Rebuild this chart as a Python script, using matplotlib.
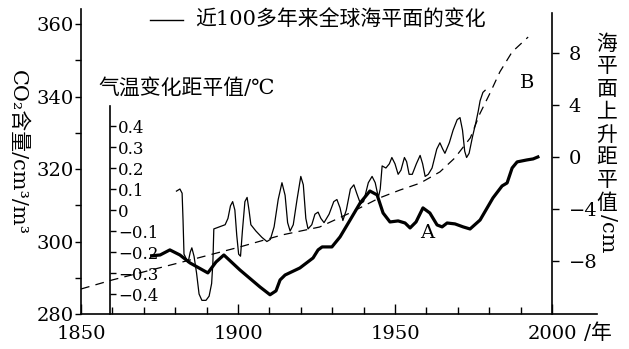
import matplotlib
matplotlib.use("Agg")
import matplotlib.pyplot as plt
from matplotlib.lines import Line2D

plt.rcParams['font.family'] = ['DejaVu Serif', 'Noto Sans CJK SC']
plt.rcParams['axes.unicode_minus'] = True

# CO2 content (dashed, left axis)
co2_years = [1850, 1860, 1887, 1900.6, 1914, 1926, 1935.7, 1945, 1951.6, 1958,
             1964.3, 1969, 1974, 1977, 1980.3, 1983.4, 1987.3, 1992.4]
co2_vals = [286.9, 289.4, 295.4, 298.5, 301.8, 304.0, 307.9, 312.0, 314.2, 316.1,
            319.2, 323.0, 328.6, 335.2, 341.0, 346.8, 352.3, 356.4]

# temperature anomaly (thin line, inner axis)
temp_years = [1880.4, 1881.5, 1882.2, 1882.5, 1882.8, 1884.1, 1884.8, 1885.3, 1886.0,
              1886.8, 1887.6, 1888.5, 1889.8, 1890.8, 1891.6, 1892.0, 1892.3, 1895.9,
              1896.8, 1897.6, 1898.3, 1899.0, 1899.6, 1900.2, 1900.8, 1901.4, 1902.2,
              1902.9, 1903.5, 1904.1, 1905.7, 1907.6, 1909.2, 1910.3, 1911.5, 1912.8,
              1914.0, 1915.0, 1915.8, 1916.6, 1917.6, 1918.8, 1920.0, 1920.8, 1921.6,
              1922.3, 1923.5, 1924.5, 1925.5, 1926.4, 1927.4, 1929.0, 1930.5, 1931.5,
              1932.5, 1933.4, 1934.5, 1935.8, 1936.9, 1937.8, 1939.0, 1940.0, 1941.5,
              1942.7, 1943.7, 1944.7, 1945.3, 1945.9, 1947.1, 1948.2, 1949.0, 1950.0,
              1951.0, 1951.9, 1953.0, 1953.7, 1954.5, 1955.5, 1956.8, 1958.0, 1958.8,
              1959.6, 1960.6, 1961.8, 1963.3, 1964.3, 1965.2, 1965.9, 1967.3, 1968.5,
              1969.8, 1970.7, 1971.5, 1972.2, 1972.8, 1973.6, 1974.7, 1975.8, 1976.5,
              1977.1, 1978.0, 1978.7]
temp_vals = [0.09, 0.10, 0.08, -0.05, -0.21, -0.25, -0.20, -0.18, -0.22,
             -0.30, -0.40, -0.43, -0.43, -0.41, -0.35, -0.25, -0.09, -0.07,
             -0.04, 0.02, 0.04, 0.0, -0.12, -0.21, -0.22, -0.10, 0.04,
             0.06, 0.0, -0.07, -0.10, -0.13, -0.15, -0.14, -0.08, 0.05,
             0.13, 0.07, -0.06, -0.10, -0.07, 0.05, 0.16, 0.12, -0.04,
             -0.09, -0.07, -0.02, -0.01, -0.04, -0.06, -0.02, 0.04, 0.05,
             0.01, -0.05, 0.0, 0.10, 0.12, 0.08, 0.03, 0.04, 0.13,
             0.16, 0.13, 0.06, 0.10, 0.21, 0.20, 0.22, 0.25, 0.22,
             0.17, 0.19, 0.25, 0.23, 0.17, 0.17, 0.22, 0.26, 0.22,
             0.16, 0.17, 0.20, 0.29, 0.32, 0.29, 0.27, 0.32, 0.38,
             0.43, 0.44, 0.38, 0.28, 0.25, 0.27, 0.35, 0.42, 0.47,
             0.52, 0.56, 0.57]

# sea level anomaly (thick line, right axis)
sea_years = [1872.5, 1875.2, 1878.3, 1881.5, 1884.7, 1890.4, 1893.0, 1895.5, 1900.6,
             1907.0, 1910.2, 1912.1, 1913.4, 1915.0, 1919.7, 1923.9, 1925.5, 1926.8,
             1929.9, 1932.5, 1935.7, 1938.9, 1942.0, 1944.3, 1946.2, 1948.4, 1951.0,
             1953.2, 1954.8, 1956.7, 1958.9, 1961.1, 1963.4, 1965.0, 1966.6, 1969.1,
             1971.7, 1973.9, 1977.1, 1981.2, 1984.1, 1985.7, 1987.3, 1988.9, 1992.0,
             1994.0, 1995.5]
sea_vals = [-7.6, -7.54, -7.15, -7.54, -8.15, -8.92, -8.08, -7.54, -8.69,
            -10.0, -10.6, -10.3, -9.46, -9.08, -8.54, -7.77, -7.15, -6.92,
            -6.92, -6.15, -4.85, -3.54, -2.62, -2.92, -4.31, -5.0, -4.92,
            -5.08, -5.46, -5.0, -3.92, -4.31, -5.23, -5.38, -5.08, -5.15,
            -5.38, -5.54, -4.85, -3.15, -2.23, -2.0, -0.85, -0.38, -0.23,
            -0.15, 0.0]

x_major = [1850, 1900, 1950, 2000]
x_minor = list(range(1850, 2001, 10))
co2_ticks = [280, 300, 320, 340, 360]
co2_minor = [290, 310, 330, 350]
sea_ticks = [-8, -4, 0, 4, 8]
temp_ticks = [0.4, 0.3, 0.2, 0.1, 0, -0.1, -0.2, -0.3, -0.4]
temp_labels = ['0.4', '0.3', '0.2', '0.1', '0', '\u22120.1', '\u22120.2', '\u22120.3', '\u22120.4']

W, H = 629, 349
fig = plt.figure(figsize=(W / 100, H / 100), dpi=100)
ax = fig.add_axes([81 / W, 35 / H, 516 / W, 305 / H])
ax.patch.set_alpha(0)

ax.set_xlim(1850, 1850 + 516 / 3.14)
ax.set_ylim(280, 280 + 305 / 3.625)
ax.spines['top'].set_visible(False)
ax.spines['right'].set_visible(False)
for s in ax.spines.values():
    s.set_linewidth(1.2)
ax.set_xticks(x_major)
ax.set_xticks(x_minor, minor=True)
ax.set_xticklabels([str(v) for v in x_major])
ax.tick_params(axis='x', which='major', direction='in', length=7, width=1, labelsize=14, pad=8)
ax.tick_params(axis='x', which='minor', direction='in', length=5, width=1)
ax.set_yticks(co2_ticks)
ax.set_yticks(co2_minor, minor=True)
ax.tick_params(axis='y', which='both', direction='out', length=4, width=1, labelsize=14, pad=1)
ax.plot(co2_years, co2_vals, color='black', lw=0.9, ls=(0, (7, 5)))

# sea level axis at 2000
ax2 = ax.twinx()
ax2.set_ylim(-12.08, 11.38)
for k in ['left', 'top', 'bottom']:
    ax2.spines[k].set_visible(False)
ax2.spines['right'].set_position(('data', 2000))
ax2.spines['right'].set_bounds(-12.08, 11.07)
ax2.spines['right'].set_linewidth(1.2)
ax2.set_yticks(sea_ticks)
ax2.set_yticklabels([str(v).replace('-', '\u2212') for v in sea_ticks])
ax2.tick_params(axis='y', direction='out', length=5, width=1, labelsize=14, pad=7)
ax2.plot(sea_years, sea_vals, color='black', lw=2.3, solid_joinstyle='round')
ax2.text(1960.2, -5.85, 'A', fontsize=14, ha='center', va='center')
ax2.text(1992, 5.7, 'B', fontsize=14, ha='center', va='center')

# temperature axis inside
ax3 = ax.twinx()
ax3.set_ylim(-0.495, 0.957)
for k in ['left', 'top', 'bottom']:
    ax3.spines[k].set_visible(False)
ax3.spines['right'].set_position(('data', 1859.2))
ax3.spines['right'].set_bounds(-0.495, 0.495)
ax3.spines['right'].set_linewidth(1.2)
ax3.set_yticks(temp_ticks)
ax3.set_yticklabels(temp_labels)
ax3.tick_params(axis='y', direction='out', length=4, width=1, labelsize=12, pad=2)
ax3.plot(temp_years, temp_vals, color='black', lw=0.9, solid_joinstyle='round')

# texts
fig.add_artist(Line2D([150 / W, 183 / W], [1 - 20 / H, 1 - 20 / H], color='black', lw=1))
fig.text(195 / W, 1 - 20 / H, '近100多年来全球海平面的变化', fontsize=15, va='center', ha='left')
fig.text(98 / W, 1 - 88 / H, '气温变化距平值/℃', fontsize=15, va='center', ha='left')
fig.text(18 / W, 1 - 153 / H, 'CO\u2082含量/cm\u00b3/m\u00b3', fontsize=15, rotation=-90,
         va='center', ha='center')
for i, ch in enumerate('海平面上升距平值'):
    fig.text(607 / W, 1 - (44 + i * 22.75) / H, ch, fontsize=15, va='center', ha='center')
fig.text(607 / W, 1 - 233 / H, '/cm', fontsize=15, rotation=-90, va='center', ha='center')
fig.text(584 / W, 1 - 333 / H, '/年', fontsize=15, va='center', ha='left')

fig.savefig('out.png', dpi=100)
